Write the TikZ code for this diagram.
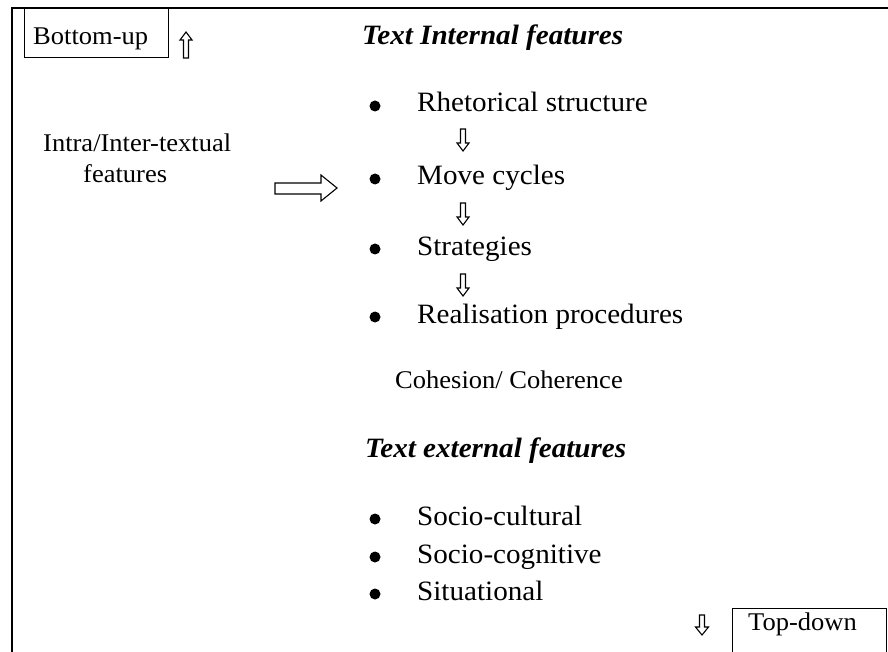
\documentclass[tikz,border=0pt]{standalone}
\usepackage{fontspec}
\setmainfont{Liberation Serif}[FakeStretch=1.04]
\newcommand{\hollowdn}[4]{% center x, top y, bottom y, head half width
  \draw[hollow] (#1-2.5,#2) -- (#1+2.5,#2) -- (#1+2.5,#3-8) -- (#1+#4,#3-8) -- (#1,#3)
    -- (#1-#4,#3-8) -- (#1-2.5,#3-8) -- cycle;}
\newcommand{\hollowup}[4]{% center x, top y, bottom y, head half width
  \draw[hollow] (#1-2.5,#3) -- (#1+2.5,#3) -- (#1+2.5,#2+8) -- (#1+#4,#2+8) -- (#1,#2)
    -- (#1-#4,#2+8) -- (#1-2.5,#2+8) -- cycle;}
\begin{document}
\begin{tikzpicture}[x=1pt,y=-1pt,
  big/.style={anchor=base west,inner sep=0pt,font=\fontsize{28}{32}\selectfont},
  small/.style={anchor=base west,inner sep=0pt,font=\fontsize{25.5}{30}\selectfont},
  heading/.style={anchor=base west,inner sep=0pt,font=\fontsize{28}{32}\selectfont\bfseries\itshape},
  hollow/.style={draw=black,line width=1.1pt,fill=white,line join=miter},
  dot/.style={circle,fill=black,inner sep=0pt,minimum size=11pt},
  frameline/.style={line width=1.5pt},
  boxline/.style={line width=1pt}]
\useasboundingbox (0,0) rectangle (888,652);
\fill[white] (0,0) rectangle (888,652);
% outer frame
\draw[frameline] (12,652) -- (12,8) -- (888,8);
% Bottom-up box
\draw[boxline] (24,8) rectangle (168,58);
\node[small] (bu) at (33,45) {Bottom-up};
\hollowup{186}{32}{58}{6}
% Top-down box
\draw[boxline] (886,660) -- (886,608) -- (732,608) -- (732,660);
\node[small] (td) at (748,630) {Top-down};
\hollowdn{702}{615}{635}{6.5}
% headings
\node[heading] (hin) at (362,45) {Text Internal features};
\node[heading] (hex) at (365,457) {Text external features};
% left text
\node[small] (intra) at (43,152) {Intra/Inter-textual};
\node[small] (feat) at (83,183) {features};
% right arrow
\draw[hollow] (275,183) -- (321,183) -- (321,175) -- (337,188) -- (321,201) -- (321,194) -- (275,194) -- cycle;
% internal list
\node[big] (rs) at (417,112) {Rhetorical structure};
\node[big] (mc) at (417,185) {Move cycles};
\node[big] (st) at (417,255) {Strategies};
\node[big] (rp) at (417,323) {Realisation procedures};
\foreach \yy in {106,179,249,317} \node[dot] at (375,\yy) {};
\hollowdn{463}{129}{151}{6}
\hollowdn{463}{203}{225}{6}
\hollowdn{463}{274}{296}{6}
% cohesion
\node[small] (coh) at (395,388) {Cohesion/ Coherence};
% external list
\node[big] (sc) at (417,525) {Socio-cultural};
\node[big] (sg) at (417,563) {Socio-cognitive};
\node[big] (si) at (417,600) {Situational};
\foreach \yy in {519,557,594} \node[dot] at (375,\yy) {};
\end{tikzpicture}
\end{document}
